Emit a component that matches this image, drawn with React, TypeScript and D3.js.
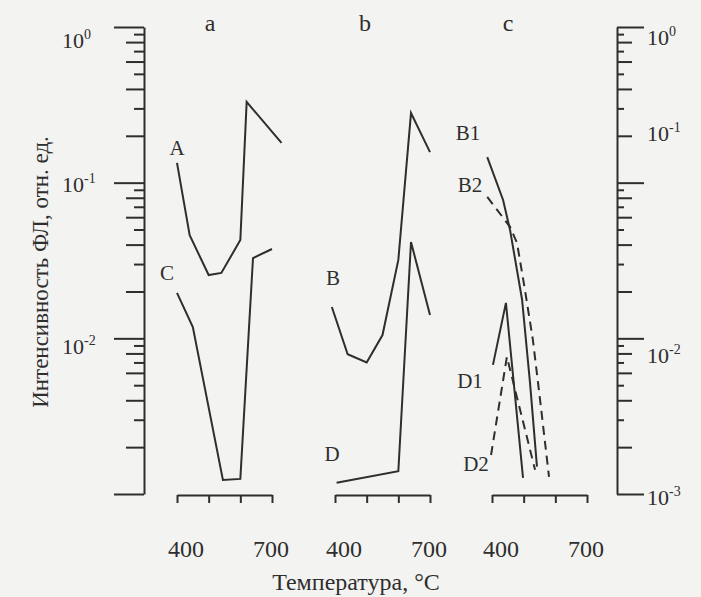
import React, { useRef, useEffect } from "react";
import * as d3 from "d3";

// panel a
const tempsA = [400, 440, 500, 540, 600, 620, 730];
const valuesA = [0.134, 0.046, 0.0255, 0.0263, 0.0428, 0.33, 0.18];
const tempsC = [400, 450, 545, 600, 640, 700];
const valuesC = [0.0196, 0.0118, 0.00123, 0.00125, 0.0328, 0.0375];
// panel b
const tempsB = [390, 440, 500, 550, 600, 640, 700];
const valuesB = [0.0159, 0.0079, 0.007, 0.0105, 0.0319, 0.28, 0.157];
const tempsD = [405, 600, 640, 700];
const valuesD = [0.00118, 0.0014, 0.0416, 0.0141];
// panel c
const tempsB1 = [385, 435, 457, 495, 520, 542];
const valuesB1 = [0.146, 0.0774, 0.0497, 0.0177, 0.0052, 0.0015];
const tempsB2 = [385, 457, 479, 504, 529, 552, 580];
const valuesB2 = [0.081, 0.052, 0.041, 0.0205, 0.0098, 0.004, 0.00129];
const tempsD1 = [403, 444, 498];
const valuesD1 = [0.00675, 0.0169, 0.00127];
const tempsD2 = [397, 447, 536];
const valuesD2 = [0.00178, 0.0076, 0.00143];

const panelNames = ["a", "b", "c"];
const xTicks = [400, 500, 600, 700];
const xTickLabels = ["400", "700"];
const leftExp = ["0", "-1", "-2"];
const rightExp = ["0", "-1", "-2", "-3"];

const ink = "#2e2e2e";
const font = "'Liberation Serif', 'DejaVu Serif', serif";

const App = () => {
  const svgRef = useRef(null);

  useEffect(() => {
    const svg = d3.select(svgRef.current);
    svg.selectAll("*").remove();

    const y = d3.scaleLog().domain([1e-3, 1]).range([494, 27]);
    const panelX0 = [177, 335, 492];
    const xs = panelX0.map((x0) =>
      d3.scaleLinear().domain([400, 700]).range([x0, x0 + 95])
    );

    svg.append("rect").attr("width", 701).attr("height", 597).attr("fill", "#f3f3f1");

    // log axes, left and right
    const logTicks = y.ticks();
    const tickLen = (v) => {
      const digit = Math.round(v / Math.pow(10, Math.floor(Math.log10(v) + 1e-9)));
      if (digit === 1) return 30;
      return digit % 2 === 0 ? 18 : 10;
    };

    const left = svg.append("g").attr("transform", "translate(144,0)");
    left
      .call(d3.axisLeft(y).tickValues(logTicks).tickFormat(() => "").tickSizeOuter(0))
      .selectAll(".tick line")
      .attr("x2", (d) => -tickLen(d));
    left.select(".domain").attr("stroke", ink).attr("stroke-width", 2);
    left.selectAll(".tick line").attr("stroke", ink).attr("stroke-width", 2);

    const right = svg.append("g").attr("transform", "translate(617,0)");
    right
      .call(d3.axisRight(y).tickValues(logTicks).tickFormat(() => "").tickSizeOuter(0))
      .selectAll(".tick line")
      .attr("x2", (d) => tickLen(d) - 3);
    right.select(".domain").attr("stroke", ink).attr("stroke-width", 2);
    right.selectAll(".tick line").attr("stroke", ink).attr("stroke-width", 2);

    // exponent labels
    const expLabel = (x, yy, e) => {
      const t = svg
        .append("text")
        .attr("x", x)
        .attr("y", yy)
        .attr("fill", ink)
        .style("font-family", font)
        .style("font-size", "22px");
      t.append("tspan").text("10");
      t.append("tspan").attr("dy", -9).style("font-size", "14px").text(e);
    };
    const leftY = [48, 192, 354];
    leftExp.forEach((e, i) => expLabel(62, leftY[i], e));
    const rightY = [45, 141, 363, 505];
    rightExp.forEach((e, i) => expLabel(647, rightY[i], e));

    // bottom axes
    xs.forEach((x, i) => {
      const g = svg.append("g").attr("transform", "translate(0,495)");
      g.call(d3.axisBottom(x).tickValues(xTicks).tickFormat(() => "").tickSize(8).tickSizeOuter(0));
      g.select(".domain").attr("stroke", ink).attr("stroke-width", 2);
      g.selectAll(".tick line").attr("stroke", ink).attr("stroke-width", 2);

      [400, 700].forEach((v, k) => {
        svg
          .append("text")
          .attr("x", x(v) + (k === 0 ? 9 : -1))
          .attr("y", 557)
          .attr("text-anchor", "middle")
          .attr("fill", ink)
          .style("font-family", font)
          .style("font-size", "24px")
          .text(xTickLabels[k]);
      });

      svg
        .append("text")
        .attr("x", x(400) + [33, 30, 16][i])
        .attr("y", 31)
        .attr("text-anchor", "middle")
        .attr("fill", ink)
        .style("font-family", font)
        .style("font-size", "24px")
        .text(panelNames[i]);
    });

    // curves
    const curves = [
      { p: 0, t: tempsA, v: valuesA, dash: null },
      { p: 0, t: tempsC, v: valuesC, dash: null },
      { p: 1, t: tempsB, v: valuesB, dash: null },
      { p: 1, t: tempsD, v: valuesD, dash: null },
      { p: 2, t: tempsB1, v: valuesB1, dash: null },
      { p: 2, t: tempsB2, v: valuesB2, dash: "9,6" },
      { p: 2, t: tempsD1, v: valuesD1, dash: null },
      { p: 2, t: tempsD2, v: valuesD2, dash: "9,6" },
    ];
    curves.forEach((c) => {
      const line = d3
        .line()
        .x((d) => xs[c.p](d[0]))
        .y((d) => y(d[1]));
      svg
        .append("path")
        .attr("d", line(c.t.map((t, i) => [t, c.v[i]])))
        .attr("fill", "none")
        .attr("stroke", ink)
        .attr("stroke-width", 2)
        .attr("stroke-dasharray", c.dash);
    });

    // curve labels
    const labels = [
      { text: "A", x: 177, y: 155 },
      { text: "C", x: 167, y: 280 },
      { text: "B", x: 333, y: 285 },
      { text: "D", x: 332, y: 461 },
      { text: "B1", x: 468, y: 140 },
      { text: "B2", x: 470, y: 192 },
      { text: "D1", x: 470, y: 388 },
      { text: "D2", x: 476, y: 471 },
    ];
    labels.forEach((l) => {
      svg
        .append("text")
        .attr("x", l.x)
        .attr("y", l.y)
        .attr("text-anchor", "middle")
        .attr("fill", ink)
        .style("font-family", font)
        .style("font-size", "21px")
        .text(l.text);
    });

    // axis titles
    svg
      .append("text")
      .attr("transform", "translate(48,272) rotate(-90)")
      .attr("text-anchor", "middle")
      .attr("fill", ink)
      .style("font-family", font)
      .style("font-size", "23px")
      .text("Интенсивность ФЛ, отн. ед.");
    svg
      .append("text")
      .attr("x", 356)
      .attr("y", 590)
      .attr("text-anchor", "middle")
      .attr("fill", ink)
      .style("font-family", font)
      .style("font-size", "24px")
      .text("Температура, °C");
  }, []);

  return (
    <svg
      ref={svgRef}
      width={701}
      height={597}
      style={{ position: "absolute", left: 0, top: 0 }}
    ></svg>
  );
};

export default App;
